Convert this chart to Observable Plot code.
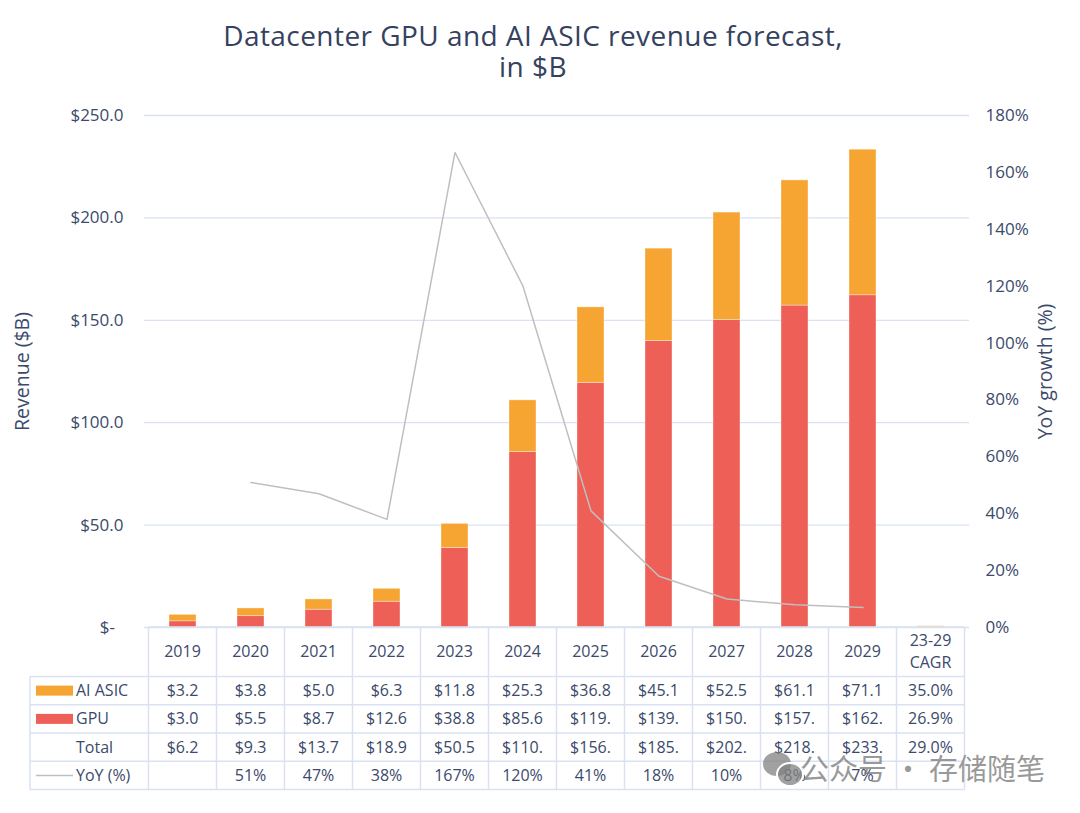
<!DOCTYPE html>
<html><head><meta charset="utf-8">
<script src="https://cdn.jsdelivr.net/npm/d3@7"></script>
<script src="https://cdn.jsdelivr.net/npm/@observablehq/plot@0.6"></script>
<style>
body{margin:0;background:#fff;font-family:"Open Sans",sans-serif;color:#3b4a6b;}
#wrap{position:relative;width:1080px;height:813px;overflow:hidden;}
#title{height:80px;padding-top:20px;box-sizing:content-box;text-align:center;font-size:28px;letter-spacing:0.45px;line-height:31px;padding-right:14px;color:#34425f;}
#wm{position:absolute;left:800px;top:746px;font-family:"Noto Sans CJK SC",sans-serif;font-size:29px;color:rgba(120,120,120,0.75);white-space:nowrap;}
.bub{position:absolute;background:rgba(130,130,130,0.75);border-radius:50%;}
</style></head>
<body>
<div id="wrap">
<div id="title">Datacenter GPU and AI ASIC revenue forecast,<br>in $B</div>
<div id="chart"></div>
<div class="bub" style="left:763px;top:752px;width:28px;height:24px;"></div>
<div class="bub" style="left:776px;top:762px;width:24px;height:21px;border:2px solid #fff;"></div>
<div id="wm">公众号 · 存储随笔</div>
</div>
<script>
const years = ["2019","2020","2021","2022","2023","2024","2025","2026","2027","2028","2029"];
const categories = [...years, "23-29 CAGR"];
const gpu   = [3.0, 5.5, 8.7, 12.6, 38.8, 85.6, 119.5, 139.9, 150.1, 157.2, 162.2];
const asic  = [3.2, 3.8, 5.0, 6.3, 11.8, 25.3, 36.8, 45.1, 52.5, 61.1, 71.1];
const total = [6.2, 9.3, 13.7, 18.9, 50.5, 110.9, 156.3, 185.0, 202.6, 218.3, 233.3];
const yoy   = [null, 51, 47, 38, 167, 120, 41, 18, 10, 8, 7];
const cagrAsic = 35.0, cagrGpu = 26.9, cagrTotal = 29.0;
const revTicks = [0, 50, 100, 150, 200, 250];
const yoyTicks = [0, 20, 40, 60, 80, 100, 120, 140, 160, 180];

const RED = "#EE5F57", ORANGE = "#F6A533", GRAY = "#BFBFBF", GRID = "#D9E1F2", INK = "#3b4a6b";
const revMax = 250, yoyMax = 180;

const bars = [];
categories.forEach((c, i) => bars.push({cat: c, series: "GPU", value: i < years.length ? gpu[i] : cagrGpu / 100}));
categories.forEach((c, i) => bars.push({cat: c, series: "AI ASIC", value: i < years.length ? asic[i] : cagrAsic / 100}));
const yoyData = years.map((c, i) => ({cat: c, yoy: yoy[i]})).filter(d => d.yoy != null);

const plot = Plot.plot({
  width: 1080, height: 713,
  marginTop: 15, marginBottom: 186, marginLeft: 144, marginRight: 111,
  style: {fontFamily: "Open Sans", fontSize: "17px", color: INK, background: "transparent", overflow: "visible"},
  x: {domain: categories, paddingInner: 0.6, paddingOuter: 0.3, axis: null},
  y: {domain: [0, revMax], axis: null},
  color: {domain: ["GPU", "AI ASIC"], range: [RED, ORANGE]},
  marks: [
    Plot.gridY(revTicks, {stroke: GRID, strokeOpacity: 1, strokeWidth: 1.3}),
    Plot.barY(bars, {x: "cat", y: "value", fill: "series", stroke: "#fff", strokeWidth: 0.6, strokeOpacity: 0.6}),
    Plot.line(yoyData, {x: "cat", y: d => d.yoy * revMax / yoyMax, stroke: GRAY, strokeWidth: 1.5}),
    Plot.axisY(revTicks, {anchor: "left", tickSize: 0, tickPadding: 21, label: null,
      tickFormat: d => d === 0 ? "$-\u2002" : "$" + d.toFixed(1)}),
    Plot.axisY(yoyTicks.map(t => t * revMax / yoyMax), {anchor: "right", tickSize: 0, tickPadding: 16, label: null,
      tickFormat: d => Math.round(d * yoyMax / revMax) + "%"}),
    Plot.text(["Revenue ($B)"], {text: d => d, frameAnchor: "left", dx: -122, rotate: -90, textAnchor: "middle", fontSize: 19.5, fill: INK}),
    Plot.text(["YoY growth (%)"], {text: d => d, frameAnchor: "right", dx: 76, rotate: -90, textAnchor: "middle", fontSize: 19.5, fill: INK})
  ]
});
document.getElementById("chart").appendChild(plot);

// Data table under the chart, positioned with Plot's x scale
const xs = plot.scale("x");
const bw = xs.bandwidth, step = xs.step;
const colStart = c => xs.apply(c) - (step - bw) / 2;
const colMid = c => xs.apply(c) + bw / 2;
const yTop = plot.scale("y").range[0];
const headH = 49.5, rowH = 28.25;
const left = 30, labStart = colStart(categories[0]), right = colStart(categories[categories.length - 1]) + step;
const nRows = 4, yBot = yTop + headH + nRows * rowH;

const svg = d3.select(plot);
const g = svg.append("g").attr("stroke", GRID).attr("stroke-width", 1.5).attr("fill", "none");
g.append("line").attr("x1", labStart).attr("x2", right).attr("y1", yTop).attr("y2", yTop);
for (let r = 0; r <= nRows; r++) {
  const y = yTop + headH + r * rowH;
  g.append("line").attr("x1", left).attr("x2", right).attr("y1", y).attr("y2", y);
}
g.append("line").attr("x1", left).attr("x2", left).attr("y1", yTop + headH).attr("y2", yBot);
categories.forEach(c => {
  const x = colStart(c);
  g.append("line").attr("x1", x).attr("x2", x).attr("y1", yTop).attr("y2", yBot);
});
g.append("line").attr("x1", right).attr("x2", right).attr("y1", yTop).attr("y2", yBot);

const t = svg.append("g").attr("fill", INK).attr("font-size", 16).attr("font-family", "Open Sans").attr("text-anchor", "middle");
// header
years.forEach(c => t.append("text").attr("x", colMid(c)).attr("y", yTop + headH / 2).attr("dy", "0.35em").text(c));
const cg = categories[categories.length - 1];
t.append("text").attr("x", colMid(cg)).attr("y", yTop + headH / 2 - 11).attr("dy", "0.35em").text("23-29");
t.append("text").attr("x", colMid(cg)).attr("y", yTop + headH / 2 + 11).attr("dy", "0.35em").text("CAGR");

const money = v => ("$" + v.toFixed(1)).slice(0, 5);
const rows = [
  {label: "AI ASIC", swatch: ORANGE, vals: asic.map(money), cagr: cagrAsic.toFixed(1) + "%"},
  {label: "GPU", swatch: RED, vals: gpu.map(money), cagr: cagrGpu.toFixed(1) + "%"},
  {label: "Total", swatch: null, vals: total.map(money), cagr: cagrTotal.toFixed(1) + "%"},
  {label: "YoY (%)", swatch: "line", vals: yoy.map(v => v == null ? "" : v + "%"), cagr: ""}
];
rows.forEach((row, r) => {
  const yc = yTop + headH + r * rowH + rowH / 2;
  if (row.swatch === "line") {
    svg.append("line").attr("x1", 36).attr("x2", 73).attr("y1", yc).attr("y2", yc).attr("stroke", GRAY).attr("stroke-width", 1.5);
  } else if (row.swatch) {
    svg.append("rect").attr("x", 36).attr("y", yc - 5).attr("width", 37).attr("height", 10).attr("fill", row.swatch);
  }
  t.append("text").attr("x", 76).attr("y", yc).attr("dy", "0.35em").attr("text-anchor", "start").text(row.label);
  years.forEach((c, i) => t.append("text").attr("x", colMid(c)).attr("y", yc).attr("dy", "0.35em").text(row.vals[i]));
  t.append("text").attr("x", colMid(cg)).attr("y", yc).attr("dy", "0.35em").text(row.cagr);
});
</script>
</body></html>
